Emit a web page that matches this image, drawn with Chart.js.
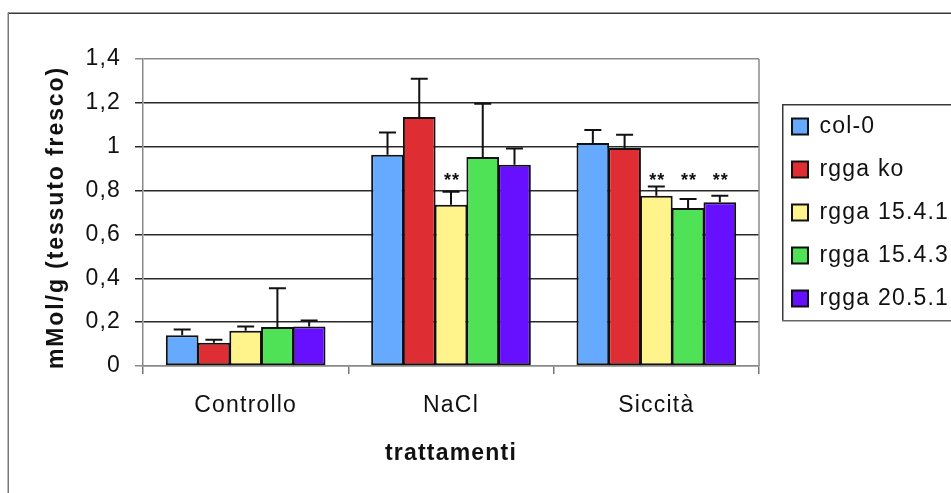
<!DOCTYPE html>
<html><head><meta charset="utf-8">
<script src="https://cdn.jsdelivr.net/npm/chart.js@4"></script>
<style>html,body{margin:0;padding:0;background:#fff;overflow:hidden}canvas{display:block}</style>
</head><body>
<canvas id="c" width="951" height="493"></canvas>
<script>
const categories = ['Controllo', 'NaCl', 'Siccità'];
const seriesNames = ['col-0', 'rgga ko', 'rgga 15.4.1', 'rgga 15.4.3', 'rgga 20.5.1'];

const col0     = [0.140, 0.963, 1.017];
const rggaKo   = [0.106, 1.135, 0.994];
const rgga1541 = [0.161, 0.735, 0.776];
const rgga1543 = [0.178, 0.953, 0.720];
const rgga2051 = [0.180, 0.918, 0.747];

const col0Err     = [0.026, 0.102, 0.059];
const rggaKoErr   = [0.014, 0.175, 0.061];
const rgga1541Err = [0.019, 0.060, 0.043];
const rgga1543Err = [0.177, 0.243, 0.042];
const rgga2051Err = [0.027, 0.074, 0.029];

const col0Sig     = ['', '', ''];
const rggaKoSig   = ['', '', ''];
const rgga1541Sig = ['', '**', '**'];
const rgga1543Sig = ['', '', '**'];
const rgga2051Sig = ['', '', '**'];
const starLevel = 0.862;

const yTickLabels = ['0', '0,2', '0,4', '0,6', '0,8', '1', '1,2', '1,4'];
const yTitle = 'mMol/g (tessuto fresco)';
const xTitle = 'trattamenti';

const colors = ['#66AAFF', '#DE2E34', '#FFF48C', '#50E256', '#6610FF'];
const values = [col0, rggaKo, rgga1541, rgga1543, rgga2051];
const errors = [col0Err, rggaKoErr, rgga1541Err, rgga1543Err, rgga2051Err];
const sigs = [col0Sig, rggaKoSig, rgga1541Sig, rgga1543Sig, rgga2051Sig];

const FONT = "'Liberation Sans', Arial, sans-serif";
const SPACING = '1.2px';
const TITLE_SPACING = '1.9px';
Chart.defaults.font.family = FONT;
Chart.defaults.color = '#111';

const spacingPlugin = {
  id: 'spacing',
  beforeUpdate(chart) { chart.ctx.letterSpacing = SPACING; },
  beforeLayout(chart) { chart.ctx.letterSpacing = SPACING; },
  beforeDraw(chart) {
    const ctx = chart.ctx;
    ctx.save();
    ctx.fillStyle = '#fff';
    ctx.fillRect(0, 0, chart.width, chart.height);
    ctx.fillStyle = '#3a3a3a';
    ctx.fillRect(8, 12.5, chart.width - 8, 1.5);
    ctx.fillStyle = '#777';
    ctx.fillRect(7.5, 12.5, 1.5, chart.height - 12.5);
    ctx.restore();
    ctx.letterSpacing = SPACING;
  },
  afterLayout(chart) {
    const lg = chart.legend;
    lg.left += 13;
    lg.right = chart.width;
    lg.width = lg.right - lg.left;
    const ys = chart.scales.y;
    if (!ys._spacingWrapped) {
      const orig = ys.drawTitle;
      ys.drawTitle = function () {
        const c = this.ctx;
        c.save();
        c.translate(0, 5);
        c.letterSpacing = TITLE_SPACING;
        orig.apply(this, arguments);
        c.restore();
        c.letterSpacing = SPACING;
      };
      ys._spacingWrapped = true;
    }
  },
  afterDatasetsDraw(chart) {
    const ctx = chart.ctx;
    const y = chart.scales.y;
    ctx.save();
    ctx.strokeStyle = '#111';
    ctx.lineWidth = 2;
    values.forEach((vals, i) => {
      const meta = chart.getDatasetMeta(i);
      meta.data.forEach((el, j) => {
        const top = y.getPixelForValue(vals[j] + errors[i][j]);
        const base = y.getPixelForValue(vals[j]);
        ctx.beginPath();
        ctx.moveTo(el.x, base);
        ctx.lineTo(el.x, top);
        ctx.moveTo(el.x - 8.5, top);
        ctx.lineTo(el.x + 8.5, top);
        ctx.stroke();
        if (sigs[i][j]) {
          ctx.fillStyle = '#111';
          ctx.font = 'bold 18px ' + FONT;
          ctx.letterSpacing = '1px';
          ctx.textAlign = 'center';
          ctx.textBaseline = 'middle';
          ctx.fillText(sigs[i][j], el.x + 1, y.getPixelForValue(starLevel) + 4);
        }
      });
    });
    ctx.restore();
  },
  afterDraw(chart) {
    const ctx = chart.ctx;
    const a = chart.chartArea;
    ctx.save();
    ctx.fillStyle = '#8a8a8a';
    ctx.fillRect(a.right - 0.75, a.top, 1.5, a.bottom - a.top);
    const lg = chart.legend;
    const pad = lg.options.labels.padding;
    const colH = lg.columnSizes[0].height;
    const cy = (lg.top + pad + lg.bottom - colH) / 2;
    const bx = lg.left + 10, byTop = cy - 11, byBot = cy + colH - 10;
    ctx.fillStyle = '#3a3a3a';
    ctx.fillRect(bx, byTop, chart.width - bx, 1.5);
    ctx.fillRect(bx, byTop, 1.5, byBot - byTop);
    ctx.fillStyle = '#666';
    ctx.fillRect(bx, byBot, chart.width - bx, 1.5);
    ctx.restore();
  }
};

new Chart(document.getElementById('c'), {
  type: 'bar',
  data: {
    labels: categories,
    datasets: seriesNames.map((name, i) => ({
      label: name,
      data: values[i],
      backgroundColor: colors[i],
      borderColor: '#111',
      borderWidth: 2,
      borderSkipped: false
    }))
  },
  options: {
    responsive: false,
    animation: false,
    datasets: { bar: { categoryPercentage: 0.773, barPercentage: 1.03 } },
    layout: { padding: { left: 30, top: 59, right: 42, bottom: 0 } },
    plugins: {
      tooltip: { enabled: false },
      legend: {
        position: 'right',
        align: 'center',
        fullSize: false,
        maxWidth: 150,
        labels: {
          font: { size: 23 },
          color: '#111',
          boxWidth: 16,
          boxHeight: 16,
          padding: 20
        }
      }
    },
    scales: {
      x: {
        afterFit(s) { s.height = 127; },
        grid: {
          display: true, drawOnChartArea: false, drawTicks: true, tickLength: 8,
          color: '#777', lineWidth: 1.5, offset: true
        },
        border: { display: true, color: '#8a8a8a', width: 1.5 },
        ticks: { font: { size: 23 }, color: '#111', padding: 18, maxRotation: 0 },
        title: { display: true, text: xTitle, font: { size: 23, weight: 'bold' }, color: '#111', padding: { top: 0, bottom: 25.5 } }
      },
      y: {
        min: 0, max: 1.4,
        afterFit(s) { s.width = 113; },
        grid: {
          color: (c) => (c.tick && (c.tick.value === 0 || Math.abs(c.tick.value - 1.4) < 1e-6)) ? '#8a8a8a' : '#2a2a2a',
          lineWidth: 1.5, tickLength: 8, drawTicks: true
        },
        border: { display: true, color: '#8a8a8a', width: 1.5 },
        ticks: {
          stepSize: 0.2, font: { size: 23 }, color: '#111', padding: 14,
          callback: (v, i) => yTickLabels[i]
        },
        title: { display: true, text: yTitle, font: { size: 23, weight: 'bold' }, color: '#111', padding: { top: 13, bottom: 0 } }
      }
    }
  },
  plugins: [spacingPlugin]
});
</script>
</body></html>
